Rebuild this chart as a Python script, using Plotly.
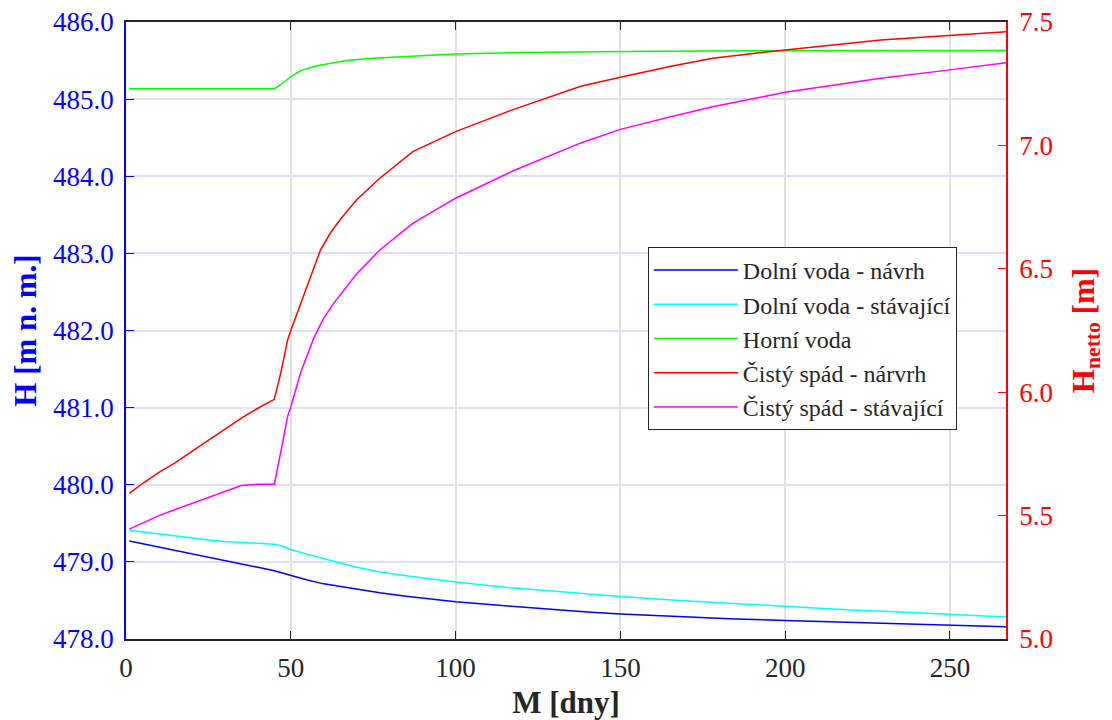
import plotly.graph_objects as go

# ---- data ----
days_dn = [1, 5, 10, 15, 20, 25, 30, 35, 40, 45, 47, 50, 55, 60, 65, 70, 77, 85, 100, 115, 128, 140, 150, 168, 185, 200, 220, 235, 250, 267]
dolni_navrh = [479.27, 479.236, 479.192, 479.148, 479.104, 479.06, 479.016, 478.972, 478.93, 478.885, 478.86, 478.82, 478.765, 478.715, 478.68, 478.645, 478.60, 478.555, 478.483, 478.43, 478.385, 478.35, 478.325, 478.29, 478.26, 478.24, 478.215, 478.195, 478.18, 478.16]

days_ds = [1, 5, 10, 15, 20, 25, 30, 35, 40, 45, 47, 50, 55, 60, 65, 70, 77, 85, 100, 115, 128, 140, 150, 168, 185, 200, 220, 235, 250, 267]
dolni_stavajici = [479.41, 479.39, 479.36, 479.33, 479.305, 479.285, 479.265, 479.25, 479.24, 479.23, 479.21, 479.16, 479.10, 479.04, 478.985, 478.93, 478.87, 478.82, 478.74, 478.67, 478.626, 478.585, 478.55, 478.50, 478.46, 478.43, 478.375, 478.35, 478.32, 478.285]

days_hv = [1, 45, 46.7, 50, 53, 56.8, 60, 67, 75, 87, 100, 120, 138, 160, 200, 267]
horni_voda = [485.135, 485.135, 485.18, 485.29, 485.37, 485.42, 485.45, 485.50, 485.53, 485.56, 485.585, 485.605, 485.615, 485.622, 485.628, 485.63]

days_cn = [1, 5, 10, 15, 20, 25, 30, 35, 40, 45, 47, 49, 50, 53, 56, 59, 62, 65, 70, 77, 87, 100, 117, 138, 150, 165, 178, 200, 229, 250, 267]
cisty_navrh = [5.59, 5.63, 5.675, 5.715, 5.76, 5.805, 5.85, 5.895, 5.935, 5.971, 6.08, 6.21, 6.25, 6.36, 6.47, 6.576, 6.645, 6.70, 6.78, 6.867, 6.975, 7.056, 7.143, 7.24, 7.276, 7.32, 7.353, 7.387, 7.427, 7.447, 7.461]

days_cs = [1, 5, 10, 15, 20, 25, 30, 35, 40, 45, 47, 49, 50, 53, 57, 60, 63, 70, 77, 87, 100, 117, 138, 150, 165, 178, 200, 229, 250, 267]
cisty_stavajici = [5.445, 5.47, 5.50, 5.525, 5.55, 5.575, 5.60, 5.622, 5.627, 5.627, 5.76, 5.90, 5.94, 6.08, 6.22, 6.30, 6.36, 6.48, 6.576, 6.684, 6.786, 6.894, 7.01, 7.065, 7.115, 7.157, 7.215, 7.272, 7.306, 7.335]

names = ["Dolní voda - návrh", "Dolní voda - stávající", "Horní voda",
         "Čistý spád - nárvrh", "Čistý spád - stávající"]
colors = ["#0000FF", "#00FFFF", "#00FF00", "#FF0000", "#FF00FF"]

x_ticks = [0, 50, 100, 150, 200, 250]
left_ticks = [478, 479, 480, 481, 482, 483, 484, 485, 486]
left_labels = ["478.0", "479.0", "480.0", "481.0", "482.0", "483.0", "484.0", "485.0", "486.0"]
right_ticks = [5.0, 5.5, 6.0, 6.5, 7.0, 7.5]
right_labels = ["5.0", "5.5", "6.0", "6.5", "7.0", "7.5"]

FONT = "Times New Roman"

fig = go.Figure()
series = [
    (days_dn, dolni_navrh, "y"),
    (days_ds, dolni_stavajici, "y"),
    (days_hv, horni_voda, "y"),
    (days_cn, cisty_navrh, "y2"),
    (days_cs, cisty_stavajici, "y2"),
]
for (xs, ys, ax), nm, col in zip(series, names, colors):
    fig.add_trace(go.Scatter(x=xs, y=ys, mode="lines", name=nm, yaxis=ax,
                             line=dict(color=col, width=1.5)))

# page body has an 8px margin, so the figure is 8px smaller than the window
fig.update_layout(
    width=1104, height=712,
    margin=dict(l=118, r=106, t=14, b=81, autoexpand=False),
    paper_bgcolor="white", plot_bgcolor="white",
    font=dict(family=FONT, size=27, color="#262626"),
    xaxis=dict(
        range=[0, 267], tickvals=x_ticks, ticks="inside", ticklen=8, tickcolor="#262626",
        showline=True, linecolor="#262626", linewidth=1.5, mirror="ticks",
        showgrid=True, gridcolor="#e2e2e2", gridwidth=1.5, zeroline=False, automargin=False,
        ticklabeloverflow="allow", ticklabelstandoff=4,
        tickfont=dict(family=FONT, size=27, color="#262626"),
        title=dict(text="<b>M [dny]</b>", font=dict(family=FONT, size=31, color="#262626"), standoff=19),
    ),
    yaxis=dict(
        range=[478, 486], tickvals=left_ticks, ticktext=left_labels, ticks="inside", ticklen=8,
        tickcolor="#0000FF", showline=True, linecolor="#0000FF", linewidth=1.5,
        showgrid=True, gridcolor="#e0e0fb", gridwidth=1.5, zeroline=False, automargin=False,
        ticklabeloverflow="allow", ticklabelstandoff=5,
        tickfont=dict(family=FONT, size=27, color="#0000FF"),
        title=dict(text="<b>H [m n. m.]</b>", font=dict(family=FONT, size=31, color="#0000FF"), standoff=12),
    ),
    yaxis2=dict(
        range=[5.0, 7.5], tickvals=right_ticks, ticktext=right_labels, overlaying="y", side="right",
        ticks="inside", ticklen=8, tickcolor="#FF0000", showline=True, linecolor="#FF0000",
        linewidth=1.5, showgrid=False, zeroline=False, automargin=False,
        ticklabeloverflow="allow", ticklabelstandoff=6,
        tickfont=dict(family=FONT, size=27, color="#FF0000"),
        title=dict(text="<b>H<sub>netto</sub> [m]</b>", font=dict(family=FONT, size=31, color="#FF0000"), standoff=20),
    ),
    legend=dict(
        x=0.593, y=0.6353, xanchor="left", yanchor="top",
        bgcolor="white", bordercolor="#262626", borderwidth=1,
        font=dict(family=FONT, size=24, color="#262626"),
        itemwidth=84, tracegroupgap=0,
    ),
    showlegend=True,
)

fig.write_html("out.html")
